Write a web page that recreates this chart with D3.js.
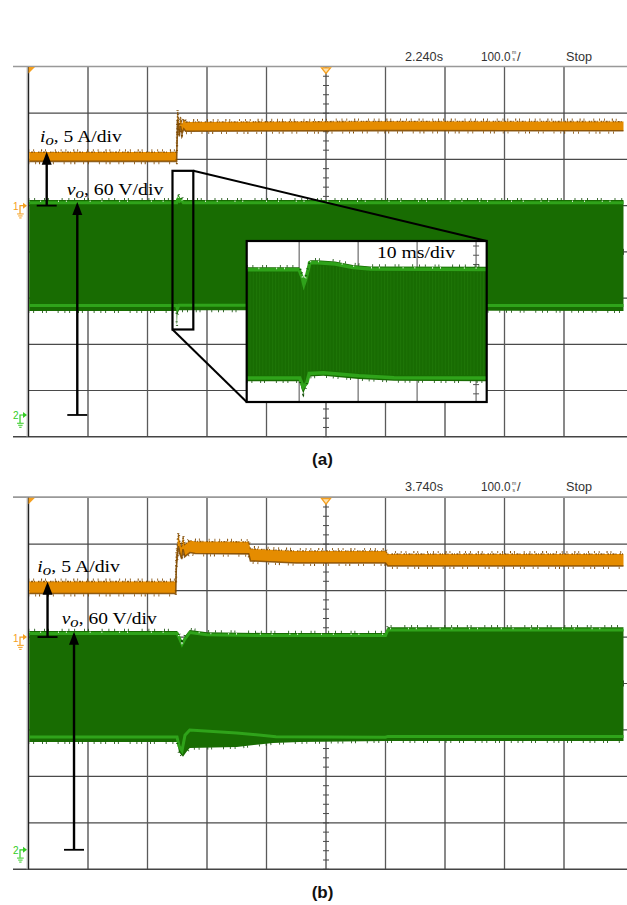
<!DOCTYPE html>
<html>
<head>
<meta charset="utf-8">
<script src="https://cdn.jsdelivr.net/npm/d3@7"></script>
<style>
  html, body { margin: 0; padding: 0; background: #fff; }
  svg { display: block; }
</style>
</head>
<body>
<svg id="chart" width="627" height="905"></svg>
<script>
// ---------------------------------------------------------------
// Scope captures of a load step: output current io and output
// voltage vo.  Time axis: ms from the left edge, 100 ms/div.
// ---------------------------------------------------------------
const headerA = ["2.240s", "100.0", "Stop"];
const headerB = ["3.740s", "100.0", "Stop"];
const panelLabels = ["(a)", "(b)"];
const ampsPerDiv = 5;
const voltsPerDiv = 60;

// channel ground references, divisions from screen centre
const groundA = { io: 1, vo: -3.53 };
const groundB = { io: 1, vo: -3.58 };

// ---- capture (a) ----
// io centre of the trace [ms, A]
const ioA = [[0, 5.29], [249, 5.29], [249.8, 7.6], [250.6, 9.7], [252, 8.9], [253.5, 8.0],
             [255.5, 9.1], [258, 8.3], [261, 8.8], [264, 8.55], [600, 8.62], [1000, 8.6]];
const ioHalfA = 0.5;               // trace thickness (A)
// vo envelope [ms, V]
const voTopA = [[0, 279], [249, 279], [250.5, 283], [252, 285], [254, 281], [257, 282.5],
                [260, 279], [1000, 279]];
const voBotA = [[0, 135], [248.6, 135], [249.1, 118], [249.6, 117], [250.2, 131], [253, 136],
                [1000, 135]];
const voEdgeA = [[0, 142], [248.6, 142], [250.2, 138], [253, 142.5], [1000, 142]];

// 10 ms/div detail of the step (inset) [ms, V]
const voTopInset = [[0, 280], [8.9, 280], [9.4, 270], [9.7, 261], [10.1, 270], [10.7, 289],
                    [12, 289], [15, 287.5], [18, 283], [21, 281], [40.7, 280.5]];
const voBotInset = [[0, 132], [9.0, 132], [9.3, 122], [9.6, 116], [10.0, 124], [10.5, 138],
                    [13, 139], [19, 135], [25, 132.5], [40.7, 132]];
const voEdgeInset = [[0, 136], [9.0, 136], [9.6, 124], [10.2, 130], [10.6, 142], [13, 143],
                     [19, 139], [25, 136.5], [40.7, 136]];
const insetTimeSpan = 40.7;         // ms shown in the inset
const insetVoltRange = [105, 314];  // V shown in the inset
const insetGridStart = 8.9;         // first 10 ms grid line
const zoomWindow = { t: [242, 277], v: [111, 317] };

// ---- capture (b) ----
const ioB = [[0, 5.33], [247.5, 5.33], [248.4, 8.0], [251.8, 10.44], [254.5, 9.6], [257.5, 9.04],
             [259.7, 10.12], [262.5, 9.3], [265.9, 9.48], [271.4, 9.75], [280, 9.64],
             [370, 9.6], [373, 8.85], [450, 8.62], [600, 8.62], [604, 8.29], [1000, 8.29]];
const ioHalfB = 0.65;
const voTopB = [[0, 282.6], [250, 282.6], [254, 276], [258, 268.8], [263, 276], [271, 283.9],
                [300, 281], [400, 280], [600, 280], [604, 287.4], [1000, 287.4]];
const voBotB = [[0, 139.2], [249.6, 139.2], [253, 126], [259.7, 120.3], [265, 126],
                [271, 131.5], [350, 132.8], [411, 138], [456, 139.2], [601, 140.5], [1000, 140.5]];
const voEdgeB = [[0, 145.7], [249.6, 145.7], [253, 134], [258, 128], [263, 148], [271, 154.8],
                 [350, 150.9], [416, 146.1], [600, 145.5], [604, 146.5], [1000, 146.5]];

// ---- annotation arrows [ms, from, to] ----
const ioArrowA = { t: 30.6, from: 0, to: 5.83 };
const voArrowA = { t: 82, from: 0, to: 276.6 };
const ioArrowB = { t: 32, from: 0, to: 5.96 };
const voArrowB = { t: 76.5, from: 0, to: 281.7 };

// ---------------------------------------------------------------
const ORANGE = "#e58c00", ORANGE_DARK = "#7d4800", ORANGE_MARK = "#f5a020";
const GREEN = "#186c02", GREEN_LIGHT = "#2fa31a", GREEN_DARK = "#0c4800", GREEN_MARK = "#33cc22";
const GRID = "#4a4a4a", TEXT = "#333";
const X0 = 28.5, X1 = 623.5, RULE_LEFT = 13;
const serif = "'Liberation Serif','Times New Roman',serif";
const sans = "'Liberation Sans',Arial,sans-serif";

const svg = d3.select("#chart");
const defs = svg.append("defs");

const panels = [
  { top: 67, bottom: 436.7, header: headerA, ground: groundA, io: ioA, ioHalf: ioHalfA,
    voTop: voTopA, voBot: voBotA, voEdge: voEdgeA, ioArrow: ioArrowA, voArrow: voArrowA,
    label: panelLabels[0], labelY: 465,
    ioLabel: { x: 40, y: 141.7, w: 81.7 }, voLabel: { x: 66.7, y: 195, w: 96.6 } },
  { top: 497.7, bottom: 869.3, header: headerB, ground: groundB, io: ioB, ioHalf: ioHalfB,
    voTop: voTopB, voBot: voBotB, voEdge: voEdgeB, ioArrow: ioArrowB, voArrow: voArrowB,
    label: panelLabels[1], labelY: 898,
    ioLabel: { x: 37.3, y: 571.7, w: 82.7 }, voLabel: { x: 61.7, y: 624, w: 95 } }
];

function arrowHead(g, x, yTip, dir) {
  // dir = -1 : pointing up
  const L = 13, Wd = 5;
  g.append("path")
    .attr("d", `M${x},${yTip} L${x - Wd},${yTip - dir * L} L${x + Wd},${yTip - dir * L} Z`)
    .attr("fill", "#000");
}

function channelMark(g, y0, digit, color) {
  const m = g.append("g");
  m.append("text").attr("x", 13).attr("y", y0 + 4.5).attr("font-family", sans)
    .attr("font-size", 10).attr("fill", color).text(digit);
  m.append("path").attr("d", `M20,${y0 + 8} L20,${y0} L23.3,${y0}`)
    .attr("fill", "none").attr("stroke", color).attr("stroke-width", 1.2);
  m.append("path").attr("d", `M23,${y0 - 3} L27,${y0} L23,${y0 + 3} Z`).attr("fill", color);
  [[6.7, 8.3], [4.4, 10.3], [2.4, 12.3]].forEach(([w, dy]) => {
    m.append("line").attr("x1", 20.4 - w / 2).attr("x2", 20.4 + w / 2)
      .attr("y1", y0 + dy).attr("y2", y0 + dy).attr("stroke", color).attr("stroke-width", 1);
  });
}

function envelope(g, xs, ys, top, bot, edge, opts) {
  // filled band between the upper and lower envelope of the ripple
  const upper = top.map(d => [xs(d[0]), ys(d[1])]);
  const lower = bot.map(d => [xs(d[0]), ys(d[1])]).reverse();
  g.append("path").attr("d", "M" + upper.concat(lower).join("L") + "Z").attr("fill", GREEN);
  const line = d3.line().x(d => xs(d[0])).y(d => ys(d[1]));
  // bright crest along the top
  g.append("path").datum(top).attr("d", line).attr("fill", "none")
    .attr("transform", "translate(0,2.6)").attr("stroke", GREEN_LIGHT).attr("stroke-width", opts.lightW);
  // bright line along the lower edge
  g.append("path").datum(edge).attr("d", line).attr("fill", "none")
    .attr("stroke", GREEN_LIGHT).attr("stroke-width", opts.lightW);
  // ripple spikes
  g.append("path").datum(top).attr("d", line).attr("fill", "none")
    .attr("transform", "translate(0,-1)").attr("stroke", GREEN_DARK).attr("stroke-width", 2.4)
    .attr("stroke-dasharray", "0.8 5 0.8 9 0.8 3 0.8 13 0.8 6");
  g.append("path").datum(top).attr("d", line).attr("fill", "none")
    .attr("transform", "translate(0,1.2)").attr("stroke", "#fff").attr("stroke-width", 1.6)
    .attr("stroke-dasharray", "0.8 11 0.8 17 0.8 7 0.8 23");
  g.append("path").datum(bot).attr("d", line).attr("fill", "none")
    .attr("transform", "translate(0,0.8)").attr("stroke", GREEN_DARK).attr("stroke-width", 2.2)
    .attr("stroke-dasharray", "0.8 4 0.8 8 0.8 3 0.8 11 0.8 6");
}

panels.forEach((p, pi) => {
  const g = svg.append("g");
  const x = d3.scaleLinear().domain([0, 1000]).range([X0, X1]);
  const yDiv = d3.scaleLinear().domain([4, -4]).range([p.top, p.bottom]);
  const yI = d3.scaleLinear().domain([0, ampsPerDiv]).range([yDiv(p.ground.io), yDiv(p.ground.io + 1)]);
  const yV = d3.scaleLinear().domain([0, voltsPerDiv]).range([yDiv(p.ground.vo), yDiv(p.ground.vo + 1)]);

  // ---- graticule ----
  const grid = g.append("g");
  d3.range(-3, 4).forEach(k => {
    grid.append("line").attr("x1", X0).attr("x2", 627).attr("y1", yDiv(k)).attr("y2", yDiv(k))
      .attr("stroke", GRID).attr("stroke-width", 1.2);
  });
  d3.range(100, 1000, 100).forEach(t => {
    grid.append("line").attr("x1", x(t)).attr("x2", x(t)).attr("y1", p.top).attr("y2", p.bottom)
      .attr("stroke", t % 200 === 0 ? "#5a5a5a" : GRID).attr("stroke-width", 1.3);
  });
  // minor ticks on the centre lines
  d3.range(-20, 21).forEach(k => {
    grid.append("line").attr("x1", x(500) - 3).attr("x2", x(500) + 3)
      .attr("y1", yDiv(k / 5)).attr("y2", yDiv(k / 5)).attr("stroke", GRID).attr("stroke-width", 1);
  });
  d3.range(0, 51).forEach(k => {
    grid.append("line").attr("x1", x(k * 20)).attr("x2", x(k * 20))
      .attr("y1", yDiv(0) - 3).attr("y2", yDiv(0) + 3).attr("stroke", GRID).attr("stroke-width", 1);
  });
  // frame
  grid.append("line").attr("x1", RULE_LEFT).attr("x2", 627).attr("y1", p.top - 0.5).attr("y2", p.top - 0.5)
    .attr("stroke", "#999").attr("stroke-width", 1.7);
  grid.append("line").attr("x1", RULE_LEFT).attr("x2", 627).attr("y1", p.bottom).attr("y2", p.bottom)
    .attr("stroke", "#444").attr("stroke-width", 1.5);
  grid.append("line").attr("x1", X0 - 1.4).attr("x2", X0 - 1.4).attr("y1", p.top).attr("y2", p.bottom)
    .attr("stroke", "#bbb").attr("stroke-width", 1);
  grid.append("line").attr("x1", X0).attr("x2", X0).attr("y1", p.top).attr("y2", p.bottom)
    .attr("stroke", "#222").attr("stroke-width", 1.4);

  // ---- header readout ----
  const hy = p.top - 6.5;
  const hdr = g.append("g").attr("font-family", sans).attr("fill", TEXT);
  hdr.append("text").attr("x", 405).attr("y", hy).attr("font-size", 13)
    .attr("textLength", 38).attr("lengthAdjust", "spacingAndGlyphs").text(p.header[0]);
  hdr.append("text").attr("x", 481).attr("y", hy).attr("font-size", 13)
    .attr("textLength", 29.5).attr("lengthAdjust", "spacingAndGlyphs").text(p.header[1]);
  // stacked "ms" unit glyph
  hdr.append("text").attr("x", 512).attr("y", hy - 6.2).attr("font-size", 5).text("m");
  hdr.append("text").attr("x", 512.6).attr("y", hy + 0.6).attr("font-size", 5).text("s");
  hdr.append("text").attr("x", 517).attr("y", hy).attr("font-size", 13).text("/");
  hdr.append("text").attr("x", 566).attr("y", hy).attr("font-size", 13)
    .attr("textLength", 26).attr("lengthAdjust", "spacingAndGlyphs").text(p.header[2]);

  // trigger markers
  g.append("path").attr("d", `M${X0},${p.top} L${X0 + 6.5},${p.top} L${X0},${p.top + 6.5} Z`)
    .attr("fill", ORANGE_MARK);
  g.append("path").attr("d", `M${x(500) - 4.5},${p.top + 0.8} L${x(500) + 4.5},${p.top + 0.8} L${x(500)},${p.top + 6.5} Z`)
    .attr("fill", "#fde2b0").attr("stroke", ORANGE_MARK).attr("stroke-width", 1.3);

  // ---- traces ----
  const clipId = "clip" + pi;
  defs.append("clipPath").attr("id", clipId).append("rect")
    .attr("x", X0 + 0.7).attr("y", p.top).attr("width", X1 - X0).attr("height", p.bottom - p.top);
  const tr = g.append("g").attr("clip-path", `url(#${clipId})`);

  // output voltage
  envelope(tr, x, yV, p.voTop, p.voBot, p.voEdge, { lightW: 3 });

  // output current
  const half = p.ioHalf;
  const ioArea = d3.area().x(d => x(d[0])).y0(d => yI(d[1] - half)).y1(d => yI(d[1] + half));
  const ioTop = d3.line().x(d => x(d[0])).y(d => yI(d[1] + half));
  const ioBot = d3.line().x(d => x(d[0])).y(d => yI(d[1] - half));
  tr.append("path").datum(p.io).attr("d", ioArea).attr("fill", ORANGE);
  tr.append("path").datum(p.io).attr("d", ioTop).attr("fill", "none").attr("stroke", ORANGE_DARK)
    .attr("stroke-width", 1.3).attr("stroke-dasharray", "1 1.5 2 1 1 3 1.5 1").attr("opacity", 0.85);
  tr.append("path").datum(p.io).attr("d", ioBot).attr("fill", "none").attr("stroke", ORANGE_DARK)
    .attr("stroke-width", 1.6).attr("opacity", 0.85);
  tr.append("path").datum(p.io).attr("d", ioTop).attr("fill", "none").attr("stroke", ORANGE_DARK)
    .attr("transform", "translate(0,-1.8)").attr("stroke-width", 2.2)
    .attr("stroke-dasharray", "0.8 4 0.8 7 1 3 0.8 9 0.8 5");
  tr.append("path").datum(p.io).attr("d", ioBot).attr("fill", "none").attr("stroke", ORANGE_DARK)
    .attr("transform", "translate(0,1.8)").attr("stroke-width", 2.2)
    .attr("stroke-dasharray", "0.8 6 0.8 3 1 8 0.8 4 0.8 10");

  // channel ground markers
  channelMark(g, yI(0), "1", ORANGE_MARK);
  channelMark(g, yV(0), "2", GREEN_MARK);

  // ---- annotations ----
  const ann = g.append("g");
  [[p.ioArrow, yI], [p.voArrow, yV]].forEach(([a, ys]) => {
    const ax = x(a.t);
    ann.append("line").attr("x1", ax).attr("x2", ax).attr("y1", ys(a.from)).attr("y2", ys(a.to) + 11)
      .attr("stroke", "#000").attr("stroke-width", 2.4);
    ann.append("line").attr("x1", ax - 10).attr("x2", ax + 10).attr("y1", ys(a.from)).attr("y2", ys(a.from))
      .attr("stroke", "#000").attr("stroke-width", 1.8);
    arrowHead(ann, ax, ys(a.to), -1);
  });

  function quantityLabel(pos, sym, rest) {
    const t = ann.append("text").attr("x", pos.x).attr("y", pos.y)
      .attr("font-family", serif).attr("font-size", 17.5).attr("fill", "#000")
      .attr("textLength", pos.w).attr("lengthAdjust", "spacingAndGlyphs");
    t.append("tspan").attr("font-style", "italic").text(sym);
    t.append("tspan").attr("font-style", "italic").attr("font-size", 15).attr("dy", 3).text("o");
    t.append("tspan").attr("dy", -3).text(rest);
  }
  quantityLabel(p.ioLabel, "i", ", " + ampsPerDiv + " A/div");
  quantityLabel(p.voLabel, "v", ", " + voltsPerDiv + " V/div");

  // panel caption
  g.append("text").attr("x", 322.5).attr("y", p.labelY).attr("text-anchor", "middle")
    .attr("font-family", sans).attr("font-weight", "bold").attr("font-size", 17)
    .attr("fill", "#111").text(p.label);

  // ---- zoomed detail for capture (a) ----
  if (pi === 0) {
    const bx0 = x(zoomWindow.t[0]), bx1 = x(zoomWindow.t[1]);
    const by0 = yV(zoomWindow.v[1]), by1 = yV(zoomWindow.v[0]);
    const inset = { x0: 246.7, x1: 486.7, y0: 241, y1: 402 };
    const zx = d3.scaleLinear().domain([0, insetTimeSpan]).range([inset.x0, inset.x1]);
    const zy = d3.scaleLinear().domain(insetVoltRange).range([inset.y1, inset.y0]);

    ann.append("rect").attr("x", bx0).attr("y", by0).attr("width", bx1 - bx0).attr("height", by1 - by0)
      .attr("fill", "none").attr("stroke", "#000").attr("stroke-width", 2.2);
    ann.append("line").attr("x1", bx1).attr("y1", by0).attr("x2", inset.x1).attr("y2", inset.y0)
      .attr("stroke", "#000").attr("stroke-width", 2);
    ann.append("line").attr("x1", bx0).attr("y1", by1).attr("x2", inset.x0).attr("y2", inset.y1)
      .attr("stroke", "#000").attr("stroke-width", 2);

    const ig = g.append("g");
    defs.append("clipPath").attr("id", "insetClip").append("rect")
      .attr("x", inset.x0).attr("y", inset.y0).attr("width", inset.x1 - inset.x0).attr("height", inset.y1 - inset.y0);
    ig.append("rect").attr("x", inset.x0).attr("y", inset.y0)
      .attr("width", inset.x1 - inset.x0).attr("height", inset.y1 - inset.y0).attr("fill", "#fff");
    const ic = ig.append("g").attr("clip-path", "url(#insetClip)");
    d3.range(insetGridStart, insetTimeSpan, 10).forEach((t, i, arr) => {
      ic.append("line").attr("x1", zx(t)).attr("x2", zx(t)).attr("y1", inset.y0).attr("y2", inset.y1)
        .attr("stroke", "#777").attr("stroke-width", 1.3);
      if (i === arr.length - 1) {
        d3.range(0, 20).forEach(k => {
          const ty = 246 + k * 9.24;
          ic.append("line").attr("x1", zx(t) - 3).attr("x2", zx(t) + 3).attr("y1", ty).attr("y2", ty)
            .attr("stroke", "#555").attr("stroke-width", 1);
        });
      }
    });
    envelope(ic, zx, zy, voTopInset, voBotInset, voEdgeInset, { lightW: 3.5 });
    // fine switching ripple inside the band
    defs.append("pattern").attr("id", "ripple").attr("patternUnits", "userSpaceOnUse")
      .attr("width", 3.2).attr("height", 10)
      .append("rect").attr("x", 0).attr("y", 0).attr("width", 0.9).attr("height", 10)
      .attr("fill", "#2a8a10").attr("opacity", 0.35);
    const upper = voTopInset.map(d => [zx(d[0]), zy(d[1]) + 5]);
    const lower = voBotInset.map(d => [zx(d[0]), zy(d[1]) - 6]).reverse();
    ic.append("path").attr("d", "M" + upper.concat(lower).join("L") + "Z").attr("fill", "url(#ripple)");

    ig.append("text").attr("x", 377).attr("y", 257.7).attr("font-family", serif)
      .attr("font-size", 17.5).attr("fill", "#000").attr("textLength", 78)
      .attr("lengthAdjust", "spacingAndGlyphs").text("10 ms/div");
    ig.append("rect").attr("x", inset.x0).attr("y", inset.y0)
      .attr("width", inset.x1 - inset.x0).attr("height", inset.y1 - inset.y0)
      .attr("fill", "none").attr("stroke", "#000").attr("stroke-width", 2.2);
  }
});
</script>
</body>
</html>
